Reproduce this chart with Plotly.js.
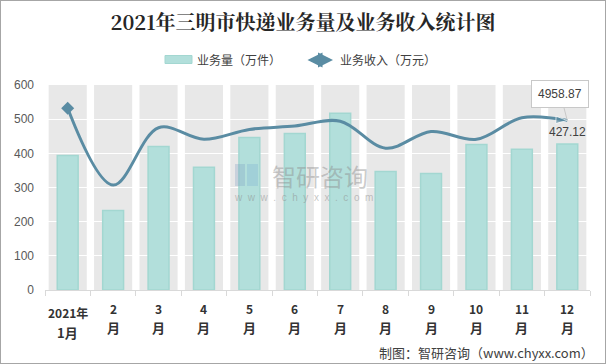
<!DOCTYPE html>
<html>
<head>
<meta charset="utf-8">
<script src="https://cdn.plot.ly/plotly-3.0.1.min.js"></script>
<style>
html,body{margin:0;padding:0;background:#fff;}
#wrap{width:604px;height:362px;border:1px solid #a6a6a6;}
</style>
</head>
<body>
<div id="wrap"><div id="chart" style="width:604px;height:362px;"></div></div>
<script>
// ---- data ----
const categories = ['2021年1月','2月','3月','4月','5月','6月','7月','8月','9月','10月','11月','12月'];
const tickTop = ['2021年','2','3','4','5','6','7','8','9','10','11','12'];
const tickBottom = ['1月','月','月','月','月','月','月','月','月','月','月','月'];
const volume = [394, 233, 420, 359, 446, 458, 517, 347, 341, 426, 412, 427.12];   // 业务量（万件）
const revenue = [5320, 3070, 4750, 4410, 4700, 4800, 4940, 4150, 4640, 4410, 5040, 4958.87]; // 业务收入（万元）
const yTicks = [0, 100, 200, 300, 400, 500, 600];

// ---- pixel helpers (page coords -> paper coords) ----
const L = 45, R = 590, T = 85, B = 290;
const PX = x => (x - L) / (R - L);
const PY = y => (B - y) / (B - T);

const n = categories.length;
const barColor = '#b2dfdb';
const lineColor = '#5a8ca3';

const bars = {
  type: 'bar', x: categories, y: volume, name: '业务量（万件）',
  width: 0.46,
  marker: {color: barColor, line: {color: '#a3d7d1', width: 1.5}},
  hoverinfo: 'x+y', showlegend: false
};
const sizes = revenue.map((v, i) => i === n - 1 ? 12 : 0);
const line = {
  type: 'scatter', mode: 'lines+markers', x: categories, y: revenue, yaxis: 'y2',
  name: '业务收入（万元）',
  line: {color: lineColor, width: 3, shape: 'spline', smoothing: 1},
  marker: {color: lineColor, size: sizes, symbol: 'arrow', angleref: 'previous'},
  showlegend: false
};
// start-cap of the line (diamond on the first point)
const lineStart = {
  type: 'scatter', mode: 'markers', x: [categories[0]], y: [revenue[0]], yaxis: 'y2',
  marker: {color: lineColor, size: 10, symbol: 'diamond'}, showlegend: false, hoverinfo: 'skip'
};

const shapes = [];
for (let i = 0; i < n; i++) {
  shapes.push({type: 'rect', xref: 'x', yref: 'y', x0: i - 0.42, x1: i + 0.42, y0: 0, y1: 600,
    fillcolor: '#e8e8e8', line: {width: 0}, layer: 'below'});
}
// legend swatch for bars
shapes.push({type: 'rect', xref: 'paper', yref: 'paper', x0: PX(165), x1: PX(192), y0: PY(63.5), y1: PY(55.5),
  fillcolor: barColor, line: {color: '#a3d7d1', width: 1}});
// watermark logo blocks
shapes.push({type: 'rect', xref: 'paper', yref: 'paper', x0: PX(235), x1: PX(245), y0: PY(186), y1: PY(164),
  fillcolor: 'rgba(120,150,190,0.28)', line: {width: 0}});
shapes.push({type: 'rect', xref: 'paper', yref: 'paper', x0: PX(247), x1: PX(258), y0: PY(186), y1: PY(164),
  fillcolor: 'rgba(120,170,210,0.28)', line: {width: 0}});

const labFont = {family: 'Noto Sans CJK SC, sans-serif', size: 12, color: '#333333'};
const annotations = [];
for (let i = 0; i < n; i++) {
  annotations.push({xref: 'x', yref: 'paper', x: i, y: PY(i === 0 ? 312 : 308.5), yanchor: 'middle',
    text: '<b>' + tickTop[i] + '</b>', showarrow: false, font: labFont});
  annotations.push({xref: 'x', yref: 'paper', x: i, y: PY(i === 0 ? 332.5 : 327.5), yanchor: 'middle',
    text: '<b>' + tickBottom[i] + '</b>', showarrow: false, font: Object.assign({}, labFont, {size: 13})});
}
// legend texts
annotations.push({xref: 'paper', yref: 'paper', x: PX(195), y: PY(60), xanchor: 'left', yanchor: 'middle',
  text: '业务量（万件）', showarrow: false, font: {family: 'Noto Sans CJK SC, sans-serif', size: 12, color: '#404040'}});
annotations.push({xref: 'paper', yref: 'paper', x: PX(338), y: PY(60), xanchor: 'left', yanchor: 'middle',
  text: '业务收入（万元）', showarrow: false, font: {family: 'Noto Sans CJK SC, sans-serif', size: 12, color: '#404040'}});
// legend line with arrowheads
annotations.push({xref: 'paper', yref: 'paper', x: PX(333), y: PY(60), axref: 'pixel', ayref: 'pixel', ax: -27, ay: 0,
  text: '', showarrow: true, arrowside: 'end+start', arrowhead: 2, arrowsize: 1, arrowwidth: 3, arrowcolor: lineColor});
// data labels
annotations.push({xref: 'x', yref: 'y', x: n - 1, y: volume[n - 1], yshift: 12, text: String(volume[n - 1]),
  showarrow: false, font: {family: 'Liberation Sans, sans-serif', size: 12, color: '#404040'}});
annotations.push({xref: 'x', yref: 'y2', x: n - 1, y: revenue[n - 1], text: String(revenue[n - 1]),
  showarrow: true, ax: -7, ay: -27, arrowhead: 0, arrowwidth: 1, arrowcolor: '#c8c8c8',
  bgcolor: '#ffffff', bordercolor: '#c8c8c8', borderwidth: 1, borderpad: 6,
  font: {family: 'Liberation Sans, sans-serif', size: 12, color: '#404040'}});
// watermark
annotations.push({xref: 'paper', yref: 'paper', x: PX(320), y: PY(175), yanchor: 'middle',
  text: '智研咨询', showarrow: false, font: {family: 'Noto Sans CJK SC, sans-serif', size: 24, color: 'rgba(140,140,140,0.45)'}});
annotations.push({xref: 'paper', yref: 'paper', x: PX(303), y: PY(197.5), yanchor: 'middle',
  text: 'w  w  w  .  c  h  y  x  x  .  c  o  m', showarrow: false, font: {family: 'Liberation Sans, sans-serif', size: 10, color: 'rgba(140,140,140,0.5)'}});
// footer
annotations.push({xref: 'paper', yref: 'paper', x: PX(596), y: PY(352), xanchor: 'right', yanchor: 'middle',
  text: '制图：智研咨询（www.chyxx.com）', showarrow: false, font: {family: 'Noto Sans CJK SC, sans-serif', size: 13, color: '#404040'}});

const layout = {
  width: 604, height: 362,
  margin: {l: 44, r: 15, t: 84, b: 73, pad: 0},
  paper_bgcolor: '#ffffff', plot_bgcolor: '#ffffff',
  title: {text: '<b>2021年三明市快递业务量及业务收入统计图</b>', x: 0.5, xanchor: 'center', y: 1 - 22 / 362, yanchor: 'middle', yref: 'container',
    font: {family: 'Noto Serif CJK SC, Liberation Serif, serif', size: 20, color: '#262626'}},
  showlegend: false,
  barmode: 'overlay',
  xaxis: {type: 'category', range: [-0.5, n - 0.5], showticklabels: false, ticks: 'outside', tickson: 'boundaries',
    ticklen: 5, tickcolor: '#d9d9d9', tickwidth: 1, showline: true, linecolor: '#d9d9d9', linewidth: 1, showgrid: false, fixedrange: true},
  yaxis: {range: [0, 600], tickvals: yTicks, showgrid: true, gridcolor: '#ffffff', gridwidth: 1, zeroline: false,
    showline: false, ticks: '', ticklabelstandoff: 10,
    tickfont: {family: 'Liberation Sans, sans-serif', size: 12, color: '#595959'}, fixedrange: true},
  yaxis2: {overlaying: 'y', range: [0, 6000], visible: false, showgrid: false, fixedrange: true},
  shapes: shapes,
  annotations: annotations
};
Plotly.newPlot('chart', [bars, line, lineStart], layout, {displayModeBar: false, staticPlot: true});
</script>
</body>
</html>
